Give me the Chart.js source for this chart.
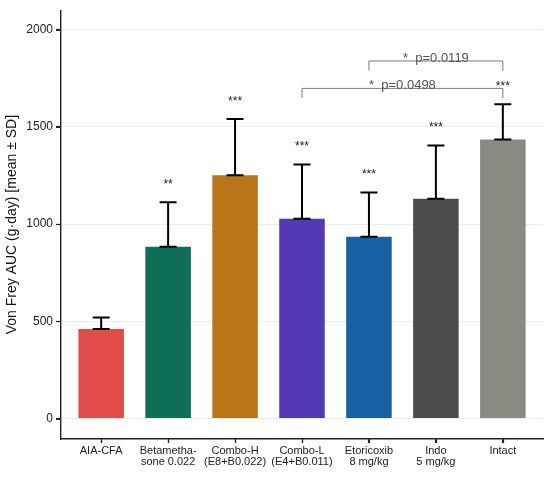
<!DOCTYPE html>
<html>
<head>
<meta charset="utf-8">
<script src="https://cdn.jsdelivr.net/npm/chart.js@4/dist/chart.umd.min.js"></script>
<style>
  body { margin: 0; background: #fff; }
  #wrap { width: 550px; height: 478px; }
</style>
</head>
<body>
<div id="wrap"><canvas id="aucChart" width="550" height="478"></canvas></div>
<script>
// group labels (multi-line as on the x axis)
const groups = [
  ['AIA-CFA'],
  ['Betametha-', 'sone 0.022'],
  ['Combo-H', '(E8+B0.022)'],
  ['Combo-L', '(E4+B0.011)'],
  ['Etoricoxib', '8 mg/kg'],
  ['Indo', '5 mg/kg'],
  ['Intact']
];
const meanAUC = [461, 884, 1251, 1027, 935, 1131, 1435];
const sdAUC = [59, 228, 289, 280, 227, 273, 182];
const sigStars = ['', '**', '***', '***', '***', '***', '***'];
const barColors = ['#E24D4C', '#0F6E56', '#B97619', '#5439B6', '#1660A5', '#4C4C4C', '#8A8A83'];
const yTicks = [0, 500, 1000, 1500, 2000];

// pairwise comparisons drawn as brackets
const bracketFrom = [3, 4];
const bracketTo = [6, 6];
const bracketY = [1698, 1839];
const bracketText = ['*  p=0.0498', '*  p=0.0119'];

const annotations = {
  id: 'annotations',
  afterDatasetsDraw(chart) {
    const ctx = chart.ctx;
    const xs = chart.scales.x, ys = chart.scales.y;
    ctx.save();
    // error bars (mean to mean + SD)
    ctx.strokeStyle = '#000';
    ctx.lineWidth = 2;
    meanAUC.forEach((m, i) => {
      const x = xs.getPixelForValue(i);
      const y0 = ys.getPixelForValue(m);
      const y1 = ys.getPixelForValue(m + sdAUC[i]);
      ctx.beginPath();
      ctx.moveTo(x, y0); ctx.lineTo(x, y1);
      ctx.moveTo(x - 8.5, y0); ctx.lineTo(x + 8.5, y0);
      ctx.moveTo(x - 8.5, y1); ctx.lineTo(x + 8.5, y1);
      ctx.stroke();
    });
    // significance stars
    ctx.fillStyle = '#222';
    ctx.font = '12px "Liberation Sans", Arial, sans-serif';
    ctx.textAlign = 'center';
    ctx.textBaseline = 'middle';
    sigStars.forEach((s, i) => {
      if (!s) return;
      const x = xs.getPixelForValue(i);
      const y = ys.getPixelForValue(meanAUC[i] + sdAUC[i] + 100);
      ctx.fillText(s, x, y + 2);
    });
    // brackets
    ctx.strokeStyle = '#7a7a7a';
    ctx.lineWidth = 1;
    ctx.fillStyle = '#555';
    ctx.font = '13px "Liberation Sans", Arial, sans-serif';
    ctx.textBaseline = 'alphabetic';
    bracketFrom.forEach((f, k) => {
      const xa = xs.getPixelForValue(f);
      const xb = xs.getPixelForValue(bracketTo[k]);
      const y = ys.getPixelForValue(bracketY[k]);
      const tip = ys.getPixelForValue(bracketY[k] - 50);
      ctx.beginPath();
      ctx.moveTo(xa, tip); ctx.lineTo(xa, y); ctx.lineTo(xb, y); ctx.lineTo(xb, tip);
      ctx.stroke();
      ctx.fillText(bracketText[k], (xa + xb) / 2, y + 1);
    });
    ctx.restore();
  },
  afterDraw(chart) {
    // outward axis tick marks
    const ctx = chart.ctx;
    const xs = chart.scales.x, ys = chart.scales.y;
    const area = chart.chartArea;
    ctx.save();
    ctx.strokeStyle = '#222';
    ctx.lineWidth = 1.2;
    ctx.beginPath();
    groups.forEach((_, i) => {
      const x = Math.round(xs.getPixelForValue(i)) + 0.5;
      ctx.moveTo(x, area.bottom); ctx.lineTo(x, area.bottom + 4);
    });
    yTicks.forEach(v => {
      const y = Math.round(ys.getPixelForValue(v)) + 0.5;
      ctx.moveTo(area.left - 5, y); ctx.lineTo(area.left, y);
    });
    ctx.stroke();
    ctx.restore();
  }
};

const ctxBar = document.getElementById('aucChart');
new Chart(ctxBar, {
  type: 'bar',
  data: {
    datasets: [{
      data: meanAUC.map((v, i) => ({ x: i, y: v })),
      backgroundColor: barColors,
      borderWidth: 0,
      categoryPercentage: 1,
      barPercentage: 0.68
    }]
  },
  options: {
    responsive: false,
    animation: false,
    layout: { padding: { top: 8, right: 7, left: 0, bottom: 0 } },
    plugins: { legend: { display: false }, tooltip: { enabled: false } },
    scales: {
      x: {
        type: 'linear',
        min: -0.6,
        max: 6.6,
        offset: false,
        afterBuildTicks: axis => { axis.ticks = groups.map((_, i) => ({ value: i })); },
        afterFit: axis => { axis.height = 39; },
        grid: { offset: false, drawOnChartArea: false, drawTicks: true, tickLength: 4, tickColor: '#222', tickWidth: 1.2 },
        border: { display: true, color: '#222', width: 1.4 },
        ticks: {
          autoSkip: false,
          maxRotation: 0,
          padding: 2,
          color: '#222',
          font: { family: '"Liberation Sans", Arial, sans-serif', size: 11, lineHeight: 1.05 },
          callback: v => groups[v]
        }
      },
      y: {
        min: -105,
        max: 2100,
        afterBuildTicks: axis => { axis.ticks = yTicks.map(v => ({ value: v })); },
        afterFit: axis => { axis.width = 61; },
        grid: { color: '#ececec', lineWidth: 1, drawTicks: true, tickLength: 5, tickColor: '#222', tickWidth: 1.2 },
        border: { display: true, color: '#222', width: 1.4 },
        ticks: {
          padding: 3,
          color: '#222',
          font: { family: '"Liberation Sans", Arial, sans-serif', size: 12 },
          callback: v => String(v)
        },
        title: {
          display: true,
          text: 'Von Frey AUC (g·day) [mean ± SD]',
          color: '#111',
          padding: { top: 4, bottom: 0 },
          font: { family: '"Liberation Sans", Arial, sans-serif', size: 14 }
        }
      }
    }
  },
  plugins: [annotations]
});
</script>
</body>
</html>
